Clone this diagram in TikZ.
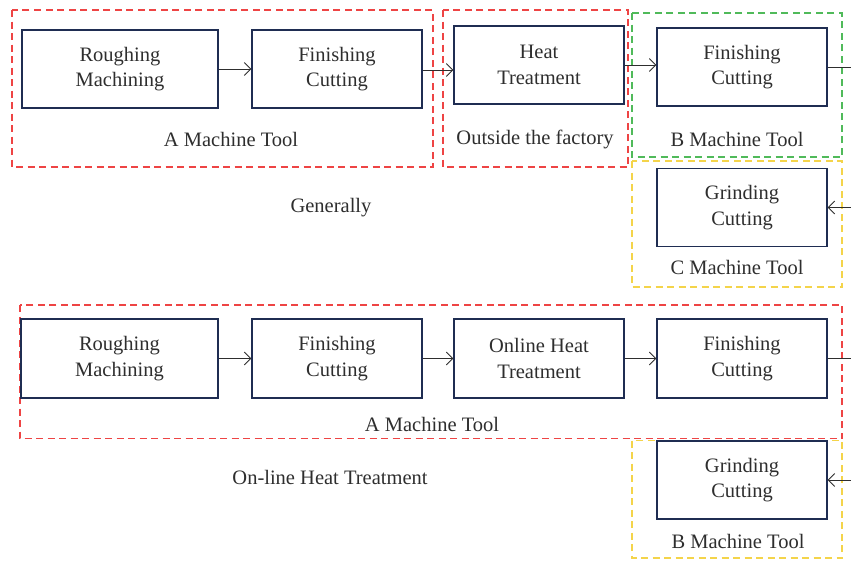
\documentclass[tikz,border=0pt]{standalone}
\usepackage{fontspec}
\setmainfont{Liberation Serif}
\usetikzlibrary{arrows.meta}
\definecolor{boxline}{HTML}{1F2D52}
\definecolor{txt}{HTML}{2E2E2E}
\definecolor{dred}{HTML}{EE4444}
\definecolor{dgreen}{HTML}{50BA5A}
\definecolor{dyellow}{HTML}{F4D44A}
\tikzset{
  proc/.style={draw=boxline, line width=1.1pt, inner sep=0pt, align=center,
    text=txt, font=\fontsize{20.5}{25.5}\selectfont},
  wideproc/.style={proc, minimum width=196pt, minimum height=78pt},
  normproc/.style={proc, minimum width=170pt, minimum height=78pt},
  lbl/.style={text=txt, inner sep=0pt, font=\fontsize{20.5}{25.5}\selectfont},
  grp/.style={dash pattern=on 7pt off 4.5pt, line width=1.4pt},
  flow/.style={draw=txt, line width=0.9pt, -{Straight Barb[length=6.5pt,width=13pt,line width=0.9pt]}},
}
\begin{document}
\begin{tikzpicture}[x=1pt,y=-1pt]
\useasboundingbox (0,0) rectangle (851,560);
\clip (0,0) rectangle (851,560);
\fill[white] (0,0) rectangle (851,560);
% ---------- top: Generally ----------
\draw[grp, draw=dred] (12,10) rectangle (433,167);
\draw[grp, draw=dred] (443,10) rectangle (628,167);
\draw[grp, draw=dgreen] (632,13) rectangle (842,157);
\draw[grp, draw=dyellow] (632,161) rectangle (842,287);

\node[wideproc] (r1) at (120,69) {Roughing\\Machining};
\node[normproc] (f1) at (337,69) {Finishing\\Cutting};
\node[normproc] (h1) at (539,65) {Heat\\Treatment};
\node[normproc] (f1b) at (742,67) {Finishing\\Cutting};
\node[normproc] (g1) at (742,207.5) {Grinding\\Cutting};

\node[lbl] (la1) at (231,139) {A Machine Tool};
\node[lbl] (lo1) at (535,139) {Outside the factory};
\node[lbl] (lb1) at (737,139) {B Machine Tool};
\node[lbl] (lc1) at (737,267) {C Machine Tool};
\node[lbl] (lg) at (331,208) {Generally};

\coordinate (t1) at (870,67);
\draw[flow] (r1.east) -- (r1.east -| f1.west);
\draw[flow] ([yshift=-1pt]f1.east) -- ([yshift=-1pt]f1.east -| h1.west);
\draw[flow] (h1.east) -- (h1.east -| f1b.west);
\draw[flow] (f1b.east) -- (t1) |- (g1.east);

% ---------- bottom: On-line Heat Treatment ----------
\draw[grp, draw=dred] (20,305) rectangle (842,438.5);
\draw[grp, draw=dyellow] (632,440.5) rectangle (842,558);

\node[wideproc, minimum width=197pt, minimum height=79pt] (r2) at (119.5,358.5) {Roughing\\Machining};
\node[normproc, minimum height=79pt] (f2) at (337,358.5) {Finishing\\Cutting};
\node[normproc, minimum height=79pt] (h2) at (539,358.5) {Online Heat\\Treatment};
\node[normproc, minimum height=79pt] (f2b) at (742,358.5) {Finishing\\Cutting};
\node[normproc] (g2) at (742,480) {Grinding\\Cutting};

\node[lbl] (la2) at (432,424) {A Machine Tool};
\node[lbl] (lon) at (330,477) {On-line Heat Treatment};
\node[lbl] (lb2) at (738,541) {B Machine Tool};

\coordinate (t2) at (870,358.5);
\draw[flow] (r2.east) -- (f2.west);
\draw[flow] (f2.east) -- (h2.west);
\draw[flow] (h2.east) -- (f2b.west);
\draw[flow] (f2b.east) -- (t2) |- (g2.east);
\end{tikzpicture}
\end{document}
